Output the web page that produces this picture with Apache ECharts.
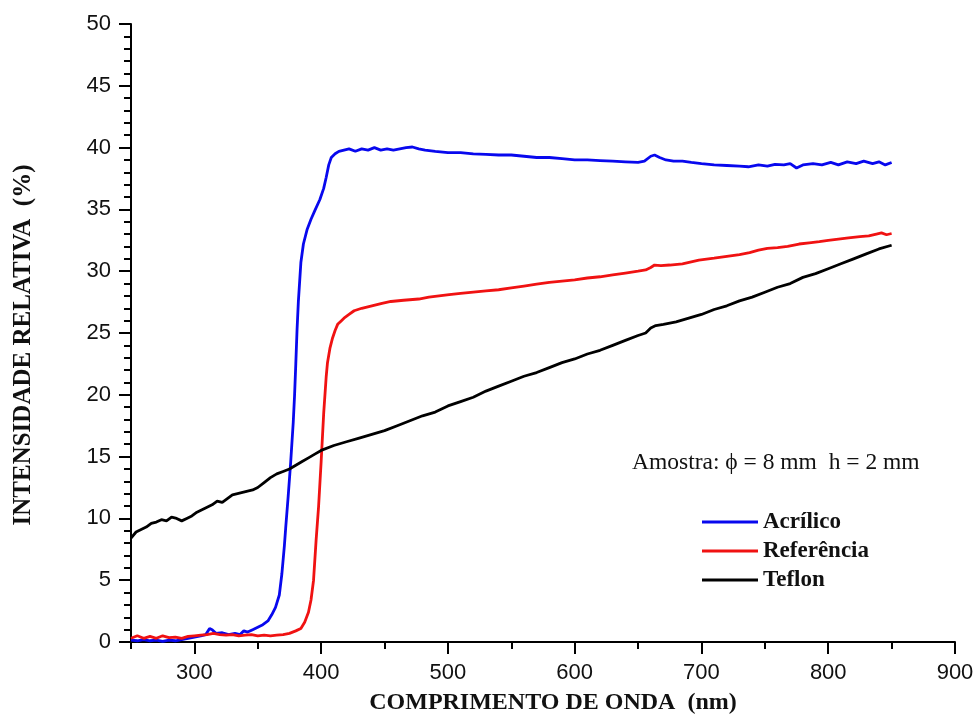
<!DOCTYPE html>
<html><head><meta charset="utf-8">
<script src="https://cdn.jsdelivr.net/npm/echarts@6/dist/echarts.min.js"></script>
<style>html,body{margin:0;padding:0;background:#fff}#c{width:980px;height:720px}</style>
</head><body><div id="c"></div>
<script>
const acrX = [250,255,260,265,270,275,280,285,290,295,300,305,309,312,314,317,322,327,332,336,339,342,346,350,354,358,361,364,367,369,371,372,374,376,378,379,380,381,382,384,386,389,392,395,399,402,404,406,408,411,414,418,422,427,432,437,442,447,452,457,462,467,472,477,482,490,500,510,520,530,540,550,560,570,580,590,600,610,620,630,640,650,655,660,663,667,672,678,685,692,700,710,720,730,737,745,752,758,765,770,775,780,788,795,802,808,815,822,828,835,840,845,850];
const acrY = [0.15,0.1,0.2,0.1,0.15,0.05,0.15,0.1,0.2,0.3,0.4,0.5,0.6,1.1,1.0,0.7,0.75,0.6,0.7,0.6,0.9,0.8,1.0,1.2,1.4,1.7,2.2,2.8,3.8,5.5,7.8,9.2,11.8,14.6,17.8,19.9,22.5,25.3,27.5,30.7,32.2,33.4,34.2,34.9,35.8,36.7,37.6,38.6,39.2,39.5,39.7,39.8,39.9,39.7,39.9,39.8,40.0,39.8,39.9,39.8,39.9,40.0,40.05,39.9,39.8,39.7,39.6,39.6,39.5,39.45,39.4,39.4,39.3,39.2,39.2,39.1,39.0,39.0,38.95,38.9,38.85,38.8,38.9,39.3,39.4,39.2,39.0,38.9,38.9,38.8,38.7,38.6,38.55,38.5,38.45,38.6,38.5,38.65,38.6,38.7,38.35,38.6,38.7,38.6,38.8,38.6,38.85,38.7,38.9,38.7,38.85,38.6,38.8];

const refX = [250,255,260,265,270,275,280,285,290,295,300,305,310,315,320,325,330,335,340,345,350,355,360,365,370,375,380,384,387,390,392,394,396,398,400,402,404,405,407,409,411,413,416,418,422,426,432,440,448,455,465,477,485,493,501,510,520,530,540,550,560,570,580,590,600,610,620,630,640,650,656,660,663,668,675,685,698,710,720,730,738,745,752,760,768,777,785,793,800,808,816,825,832,838,842,846,850];
const refY = [0.3,0.5,0.3,0.45,0.3,0.5,0.35,0.4,0.3,0.45,0.5,0.55,0.6,0.7,0.6,0.55,0.6,0.5,0.55,0.6,0.5,0.55,0.5,0.55,0.6,0.7,0.9,1.1,1.6,2.4,3.4,5.0,8.2,11.0,14.6,18.5,21.5,22.6,23.8,24.6,25.2,25.7,26.0,26.2,26.5,26.8,27.0,27.2,27.4,27.55,27.65,27.75,27.9,28.0,28.1,28.2,28.3,28.4,28.5,28.65,28.8,28.95,29.1,29.2,29.3,29.45,29.55,29.7,29.85,30.0,30.1,30.3,30.5,30.45,30.5,30.6,30.9,31.05,31.2,31.35,31.5,31.7,31.85,31.9,32.0,32.2,32.3,32.4,32.5,32.6,32.7,32.8,32.85,33.0,33.1,32.95,33.05];

const tefX = [250,254,258,262,266,270,274,278,282,286,290,294,298,302,306,310,314,318,322,326,330,334,338,342,346,350,355,360,365,370,375,380,385,390,395,400,410,420,430,440,450,460,470,480,490,500,510,520,530,540,550,560,570,580,590,600,610,620,630,640,650,656,660,664,670,680,690,700,710,720,730,740,750,760,770,780,790,800,810,820,830,840,850];
const tefY = [8.4,8.9,9.1,9.3,9.6,9.7,9.9,9.8,10.1,10.0,9.8,10.0,10.2,10.5,10.7,10.9,11.1,11.4,11.3,11.6,11.9,12.0,12.1,12.2,12.3,12.5,12.9,13.3,13.6,13.8,14.0,14.3,14.6,14.9,15.2,15.5,15.9,16.2,16.5,16.8,17.1,17.5,17.9,18.3,18.6,19.1,19.45,19.8,20.3,20.7,21.1,21.5,21.8,22.2,22.6,22.9,23.3,23.6,24.0,24.4,24.8,25.0,25.4,25.6,25.7,25.9,26.2,26.5,26.9,27.2,27.6,27.9,28.3,28.7,29.0,29.5,29.8,30.2,30.6,31.0,31.4,31.8,32.1];

const seriesNames = ['Acrílico','Referência','Teflon'];
const xTickLabels = [300,400,500,600,700,800,900];
const xMinorTicks = [250,350,450,550,650,750,850];
const annotation = 'Amostra: \u03d5 = 8 mm  h = 2 mm';

const pair = (xs, ys) => xs.map((x, i) => [x, ys[i]]);
const colors = ['#0808ee', '#f01212', '#000000'];
const sans = 'Liberation Sans, Arial, sans-serif';
const serif = 'Liberation Serif, Times New Roman, serif';

const chart = echarts.init(document.getElementById('c'), null, {renderer: 'canvas'});
const mkSeries = (name, data, color) => ({
  name, type: 'line', data, showSymbol: false, symbol: 'none',
  xAxisIndex: 0, yAxisIndex: 0,
  lineStyle: {color, width: 2.8}, itemStyle: {color}, animation: false
});
chart.setOption({
  animation: false,
  backgroundColor: '#fff',
  grid: {left: 131, right: 25, top: 24, bottom: 76},
  legend: {
    orient: 'vertical', left: 697, top: 505,
    itemWidth: 56, itemHeight: 3, icon: 'rect', itemGap: 5,
    data: seriesNames,
    textStyle: {fontFamily: serif, fontWeight: 'bold', fontSize: 23, color: '#111', lineHeight: 24}
  },
  xAxis: [{
    type: 'value', min: 250, max: 900, interval: 50,
    name: 'COMPRIMENTO DE ONDA  (nm)', nameLocation: 'middle', nameGap: 49,
    nameTextStyle: {fontFamily: serif, fontWeight: 'bold', fontSize: 24, color: '#111', padding: [0, 0, 0, 20]},
    axisLine: {show: true, onZero: false, lineStyle: {color: '#000', width: 2}},
    axisTick: {show: true, customValues: xTickLabels, length: 12, inside: false, lineStyle: {color: '#000', width: 2}},
    axisLabel: {customValues: xTickLabels, fontFamily: sans, fontSize: 22, color: '#111', margin: 20},
    splitLine: {show: false}
  }, {
    type: 'value', min: 250, max: 900, interval: 50, position: 'bottom',
    axisLine: {show: false},
    axisTick: {show: true, customValues: xMinorTicks, length: 7, lineStyle: {color: '#000', width: 2}},
    axisLabel: {show: false}, splitLine: {show: false}
  }],
  yAxis: {
    type: 'value', min: 0, max: 50, interval: 5,
    name: 'INTENSIDADE RELATIVA  (%)', nameLocation: 'middle', nameGap: 95, nameRotate: 90,
    nameTextStyle: {fontFamily: serif, fontWeight: 'bold', fontSize: 25, color: '#111', padding: [0, 24, 0, 0]},
    axisLine: {show: true, onZero: false, lineStyle: {color: '#000', width: 2}},
    axisTick: {show: true, length: 12, lineStyle: {color: '#000', width: 2}},
    minorTick: {show: true, splitNumber: 5, length: 7, lineStyle: {color: '#000', width: 2}},
    axisLabel: {fontFamily: sans, fontSize: 22, color: '#111', margin: 20},
    splitLine: {show: false}, minorSplitLine: {show: false}
  },
  graphic: [{
    type: 'text', left: 632, top: 451,
    style: {text: annotation, fontFamily: serif, fontSize: 23.5, fill: '#111'}
  }],
  series: [
    mkSeries(seriesNames[0], pair(acrX, acrY), colors[0]),
    mkSeries(seriesNames[1], pair(refX, refY), colors[1]),
    mkSeries(seriesNames[2], pair(tefX, tefY), colors[2])
  ]
});
</script></body></html>
